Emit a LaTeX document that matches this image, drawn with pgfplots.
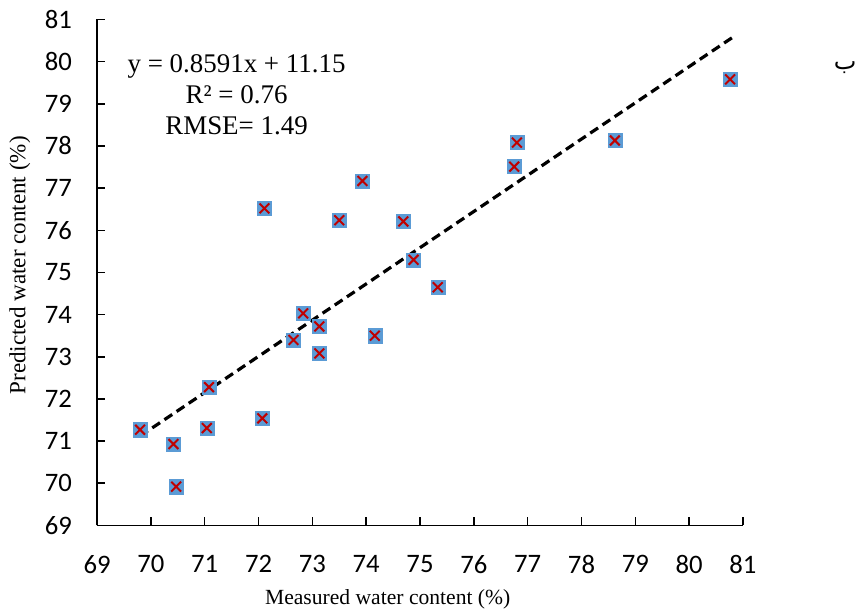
\documentclass[border=0pt]{standalone}
\usepackage{fontspec}
\setmainfont{Liberation Serif}
\newfontfamily\calibri{Carlito}
\newfontfamily\arabicfont[Script=Arabic]{DejaVu Sans}
\TeXXeTstate=1
\usepackage{pgfplots}
\usepackage{pgfplotstable}
\pgfplotsset{compat=1.18}
\definecolor{mblue}{HTML}{5B9BD5}
\definecolor{mred}{HTML}{C00000}
\pgfplotstableread{
x y
69.80 71.27
70.42 70.93
70.47 69.92
71.04 71.31
71.08 72.28
72.07 71.54
72.11 76.52
72.65 73.40
72.83 74.03
73.13 73.72
73.13 73.08
73.50 76.24
73.93 77.17
74.16 73.50
74.69 76.21
74.88 75.30
75.33 74.65
76.75 77.51
76.80 78.08
78.62 78.13
80.76 79.58
}\datatable
\begin{document}
\begin{tikzpicture}
\begin{axis}[
  scale only axis,
  width=484.5pt, height=379.5pt,
  xmin=69, xmax=81, ymin=69, ymax=81,
  xtick={69,...,81}, ytick={69,...,81},
  axis x line=bottom, axis y line=left,
  axis line style={line width=1.2pt, -},
  tick style={line width=1.2pt, black},
  tick align=inside,
  major tick length=6pt,
  /pgf/number format/assume math mode=true,
  xticklabel={\calibri\fontsize{20}{24}\selectfont\pgfmathprintnumber{\tick}},
  yticklabel={\calibri\fontsize{20}{24}\selectfont\pgfmathprintnumber{\tick}},
  xticklabel style={yshift=-19pt},
  yticklabel style={xshift=-15.4pt},
  xlabel={Measured water content (\%)},
  ylabel={Predicted water content (\%)},
  xlabel style={at={(ticklabel cs:0.45)}, font=\fontsize{16.2}{19}\selectfont},
  ylabel style={at={(ticklabel cs:0.514)}, font=\fontsize{17.3}{20}\selectfont},
  xlabel shift=5pt,
  ylabel shift=4pt,
  clip=false,
]
\addplot[black, line width=2.4pt, dash pattern=on 7pt off 4pt] coordinates {(69.8,71.12) (80.8,80.57)};
\addplot[only marks, mark=square*, mark size=5.3pt, mark options={fill=mblue, draw=mblue, line width=0.3pt}] table[x=x,y=y]{\datatable};
\addplot[only marks, mark=x, mark size=5.2pt, mark options={draw=mred, line width=1.5pt}] table[x=x,y=y]{\datatable};
\node[align=center, font=\fontsize{20.2}{23.2}\selectfont] at (rel axis cs:0.216,0.852) {y = 0.8591x + 11.15\\R² = 0.76\\RMSE= 1.49};
\node[font=\fontsize{18}{20}\selectfont] at (rel axis cs:1.158,0.905) {\arabicfont\beginR ب\endR};
\coordinate (bl) at (rel axis cs:-0.1502,-0.1729);
\coordinate (tr) at (rel axis cs:1.1765,1.0385);
\end{axis}
\pgfresetboundingbox
\useasboundingbox (bl) rectangle (tr);
\end{tikzpicture}
\end{document}
